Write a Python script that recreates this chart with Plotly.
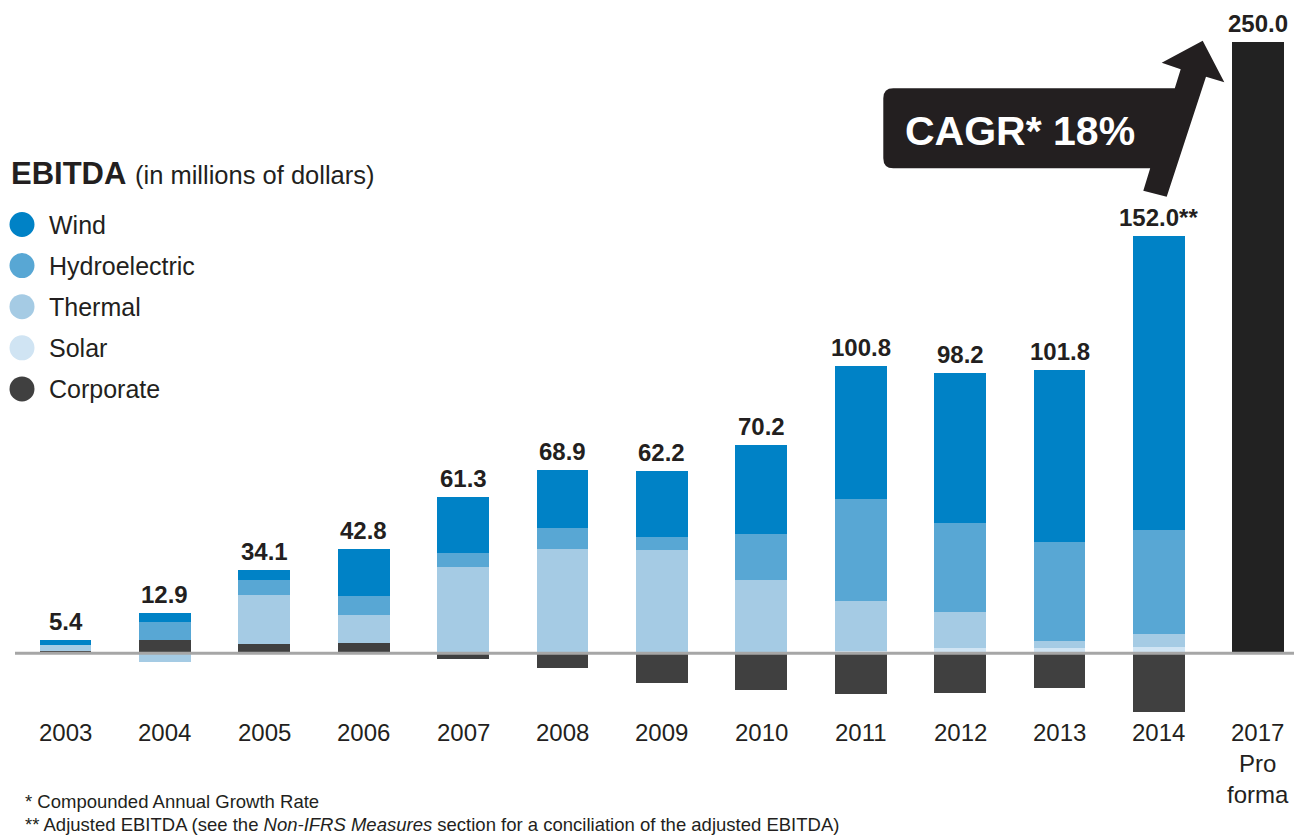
import plotly.graph_objects as go

# EBITDA by segment, in millions of dollars
years = ["2003", "2004", "2005", "2006", "2007", "2008", "2009",
         "2010", "2011", "2012", "2013", "2014", "2017<br>Pro<br>forma"]
wind = [2.2, 3.7, 4.1, 19.5, 22.8, 23.8, 26.8, 36.3, 54.5, 61.2, 70.2, 120.2, None]
hydro = [0.0, 7.3, 6.3, 7.6, 5.6, 8.3, 5.6, 18.8, 41.6, 36.6, 40.5, 42.5, None]
thermal = [2.4, -3.4, 19.9, 11.4, 35.4, 42.8, 42.1, 30.0, 20.7, 14.5, 2.9, 5.3, None]
solar = [0.0, 0.0, 0.0, 0.0, 0.0, 0.0, 0.0, 0.0, 0.8, 2.3, 2.3, 2.6, None]
corporate = [0.8, 5.3, 3.8, 4.3, -2.5, -6.0, -12.3, -14.9, -16.8, -16.4, -14.1, -24.1, None]
pro_forma = [None] * 12 + [250.0]
totals = [5.4, 12.9, 34.1, 42.8, 61.3, 68.9, 62.2, 70.2, 100.8, 98.2, 101.8, 152.0, 250.0]
total_marks = [""] * 11 + ["**", ""]

series_names = ["Wind", "Hydroelectric", "Thermal", "Solar", "Corporate"]
series_colors = ["#0082C6", "#58A7D4", "#A5CBE4", "#D0E4F3", "#404040"]
cagr_text = "CAGR* 18%"
footnotes = [
    "* Compounded Annual Growth Rate",
    "** Adjusted EBITDA (see the <i>Non-IFRS Measures</i> section for a conciliation of the adjusted EBITDA)",
]

W, H = 1294, 835
FONT = "Liberation Sans, Arial, sans-serif"
INK = "#231F20"


def px(x):
    return x / W


def py(y):
    return 1 - y / H


xs = list(range(len(years)))
fig = go.Figure()

# stacking order from the zero line outward
stack = [
    ("Corporate", corporate),
    ("Solar", solar),
    ("Thermal", thermal),
    ("Hydroelectric", hydro),
    ("Wind", wind),
]
color_of = dict(zip(series_names, series_colors))
for name, vals in stack:
    fig.add_trace(go.Bar(x=xs, y=vals, name=name, marker_color=color_of[name],
                         marker_line_width=0, width=0.52, hoverinfo="x+y+name"))
fig.add_trace(go.Bar(x=xs, y=pro_forma, name="Pro forma", marker_color="#222222",
                     marker_line_width=0, width=0.52))

annotations = []

# value labels above each positive stack
for i in xs:
    if pro_forma[i] is not None:
        top = pro_forma[i]
    else:
        top = sum(v[i] for _, v in stack if v[i] is not None and v[i] > 0)
    annotations.append(dict(
        x=i, y=top, xref="x", yref="y", yanchor="bottom", yshift=3,
        text=f"<b>{totals[i]:.1f}{total_marks[i]}</b>", showarrow=False,
        font=dict(family=FONT, size=24, color=INK)))

# category labels under the bars
for i, lab in enumerate(years):
    annotations.append(dict(
        x=i, y=py(717), xref="x", yref="paper", yanchor="top", valign="top",
        text=lab, showarrow=False,
        font=dict(family=FONT, size=24, color=INK)))

# legend block
annotations.append(dict(
    x=px(9), y=py(174), xref="paper", yref="paper", xanchor="left", yanchor="middle",
    text="<b>EBITDA</b> <span style='font-size:25.5px'>(in millions of dollars)</span>",
    showarrow=False, font=dict(family=FONT, size=31, color=INK)))

shapes = []
for k, (name, col) in enumerate(zip(series_names, series_colors)):
    cy = 224.5 + 41.1 * k
    shapes.append(dict(type="circle", xref="paper", yref="paper",
                       x0=px(9.5), x1=px(34.5), y0=py(cy - 12.5), y1=py(cy + 12.5),
                       fillcolor=col, line_width=0, layer="above"))
    annotations.append(dict(
        x=px(46.5), y=py(cy), xref="paper", yref="paper", xanchor="left", yanchor="middle",
        text=name, showarrow=False, font=dict(family=FONT, size=25, color=INK)))

# zero line
shapes.append(dict(type="line", xref="paper", yref="y", x0=px(15), x1=1, y0=0, y1=0,
                   line=dict(color="#A6A6A6", width=3), layer="above"))

# rounded call-out box joined to an up-right arrow
pts = [
    ("M", 893.3, 88.3), ("L", 1174.8, 88.3), ("L", 1180.7, 69.3), ("L", 1161.7, 62.7),
    ("L", 1202.7, 40.7), ("L", 1224.3, 82.3), ("L", 1206.0, 76.7), ("L", 1166.7, 196.7),
    ("L", 1143.3, 190.7), ("L", 1150.2, 168.3), ("L", 893.3, 168.3),
]
path = " ".join(f"{c} {px(x):.5f},{py(y):.5f}" for c, x, y in pts)
path += f" Q {px(883.3):.5f},{py(168.3):.5f} {px(883.3):.5f},{py(158.3):.5f}"
path += f" L {px(883.3):.5f},{py(98.3):.5f}"
path += f" Q {px(883.3):.5f},{py(88.3):.5f} {px(893.3):.5f},{py(88.3):.5f} Z"
shapes.append(dict(type="path", xref="paper", yref="paper", path=path,
                   fillcolor=INK, line_width=0, layer="above"))
annotations.append(dict(
    x=px(1019.5), y=py(131), xref="paper", yref="paper", xanchor="center", yanchor="middle",
    text=f"<b>{cagr_text}</b>", showarrow=False,
    font=dict(family=FONT, size=41, color="white")))

# footnotes
for k, note in enumerate(footnotes):
    annotations.append(dict(
        x=px(23), y=py(801 + 23 * k), xref="paper", yref="paper",
        xanchor="left", yanchor="middle", text=note, showarrow=False,
        font=dict(family=FONT, size=18.5, color=INK)))

px_per_unit_x = 99.4
x0_px = 65.5
px_per_unit_y = 2.4464
zero_px = 653.3

fig.update_layout(
    width=W, height=H,
    margin=dict(l=0, r=0, t=0, b=0),
    paper_bgcolor="white", plot_bgcolor="white",
    barmode="relative", bargap=0,
    showlegend=False,
    xaxis=dict(visible=False, range=[-x0_px / px_per_unit_x, (W - x0_px) / px_per_unit_x],
               fixedrange=True),
    yaxis=dict(visible=False, range=[-(H - zero_px) / px_per_unit_y, zero_px / px_per_unit_y],
               fixedrange=True),
    shapes=shapes,
    annotations=annotations,
)

fig.write_html("out.html")
